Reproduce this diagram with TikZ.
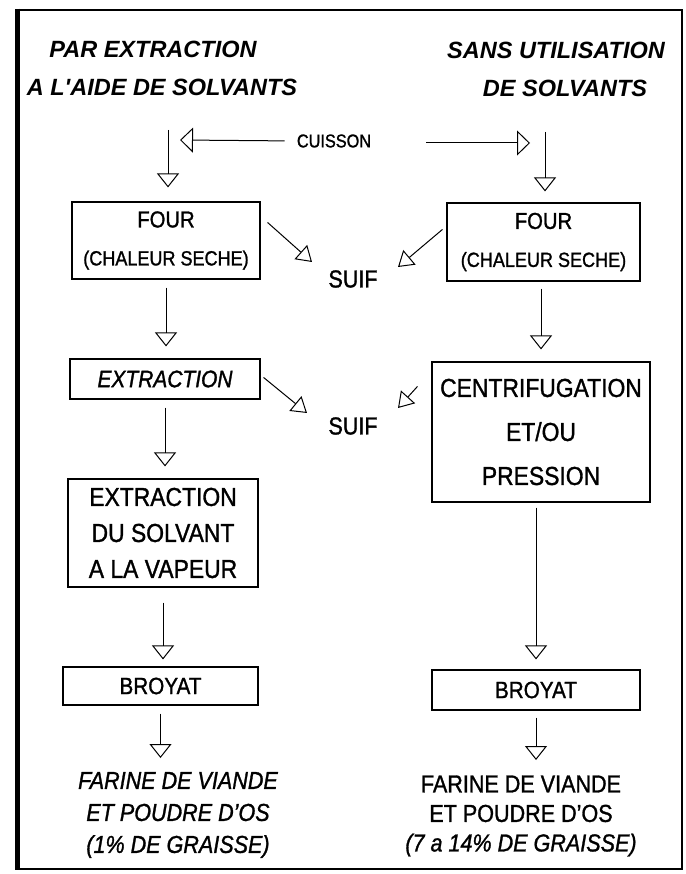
\documentclass[tikz,border=0pt]{standalone}
\usepackage{fontspec}
\setmainfont{Liberation Sans}[FakeStretch=0.88,FakeBold=1.2]
\newfontfamily\headfont{Liberation Sans}
\usetikzlibrary{calc,arrows.meta}
\newcommand{\setfs}[2]{\fontsize{#1}{#2}\selectfont}
\tikzset{
  frame/.style={draw=black,line width=2.5pt},
  box/.style={draw=black,line width=1.1pt,inner sep=0pt,align=center},
  flow/.style={draw=black,line width=1pt,-{Triangle[open,length=14pt,width=22pt]}},
  side/.style={draw=black,line width=1pt,-{Triangle[open,length=15pt,width=19pt]}},
  head/.style={font=\headfont\setfs{23.5}{28}\bfseries\itshape,inner sep=0pt},
  note/.style={font=\setfs{24.5}{28},inner sep=0pt},
}

\begin{document}
\begin{tikzpicture}[x=1pt,y=-1pt]
\useasboundingbox (0,0) rectangle (685,874);
\draw[frame] (17,10) rectangle (682,869);
\draw[line width=5pt] (17,8.75) -- (17,870.25);
\node[head] (tl1) at (153,49) {PAR EXTRACTION};
\node[head] (tl2) at (162,87) {A L'AIDE DE SOLVANTS};
\node[head] (tr1) at (556,50) {SANS UTILISATION};
\node[head] (tr2) at (565,88) {DE SOLVANTS};
\coordinate (v1) at (168,130);
\coordinate (v2) at (545,132);
\coordinate (cl) at (180,140);
\coordinate (cr) at (530,143);
\coordinate (f1) at (160.5,758);
\coordinate (f2) at (536,760);
\node[font=\setfs{18.5}{22},inner sep=0pt] (cuis) at (334,141) {CUISSON};
\node[box,minimum width=188pt,minimum height=77pt,font=\setfs{23}{38}] (four1) at (166,240.5) {FOUR\\{\fontsize{20.5}{38}\selectfont(CHALEUR SECHE)}};
\node[box,minimum width=193pt,minimum height=78pt,font=\setfs{23}{38}] (four2) at (543.5,242) {FOUR\\{\fontsize{20.5}{38}\selectfont(CHALEUR SECHE)}};
\node[box,minimum width=190pt,minimum height=40pt,font=\setfs{23.8}{28}\itshape] (extr) at (165,379) {EXTRACTION};
\node[box,minimum width=218pt,minimum height=140pt,font=\setfs{26}{44}] (centri) at (541,432) {CENTRIFUGATION\\ET/OU\\PRESSION};
\node[box,minimum width=190pt,minimum height=108pt,font=\setfs{26}{36}] (solv) at (163,533) {EXTRACTION\\DU SOLVANT\\A LA VAPEUR};
\node[box,minimum width=195pt,minimum height=38pt,font=\setfs{23.5}{26}] (broy1) at (160.5,686) {BROYAT};
\node[box,minimum width=208pt,minimum height=40pt,font=\setfs{23.5}{26}] (broy2) at (536,690) {BROYAT};
\node[note] (suif1) at (353,279) {SUIF};
\node[note] (suif2) at (353,426) {SUIF};
\node[font=\setfs{24.5}{32}\itshape,align=center,inner sep=0pt] (far1) at (178,815) {FARINE DE VIANDE\\ET POUDRE D'OS\\(1\% DE GRAISSE)};
\node[font=\setfs{24.5}{29.5},align=center,inner sep=0pt] (far2) at (521,816) {FARINE DE VIANDE\\ET POUDRE D'OS\\\textit{(7 a 14\% DE GRAISSE)}};
% cuisson
\draw[line width=1pt,-{Triangle[open,length=13pt,width=25pt]},shorten <=12pt] (cuis.west) -- (cl);
\draw[line width=1pt,-{Triangle[open,length=13pt,width=25pt]},shorten <=55pt] (cuis.east |- cr) -- (cr);
\draw[flow,shorten >=14pt] (v1) -- (v1 |- four1.north);
\draw[flow,shorten >=11pt] (v2) -- (v2 |- four2.north);
% colonne gauche
\draw[flow,shorten <=8pt,shorten >=12pt] (four1.south) -- (four1.south |- extr.north);
\draw[flow,shorten <=8pt,shorten >=12pt] (extr.south) -- (extr.south |- solv.north);
\draw[flow,shorten <=15pt,shorten >=7pt] (solv.south) -- (solv.south |- broy1.north);
\draw[flow,shorten <=8pt] (broy1.south) -- (f1);
% colonne droite
\draw[flow,shorten <=7pt,shorten >=12pt] (centri.north |- four2.south) -- (centri.north);
\draw[flow,shorten <=5pt,shorten >=10pt] (broy2.north |- centri.south) -- (broy2.north);
\draw[flow,shorten <=7pt] (broy2.south) -- (f2);
% suif
\draw[side] ($(four1.north east)+(7,21)$) -- ($(suif1)+(-41,-17)$);
\draw[side] ($(four2.north west)+(-4,27)$) -- ($(suif1)+(45,-12)$);
\draw[side] ($(extr.north east)+(3,19)$) -- ($(suif2)+(-46,-13)$);
\draw[side] ($(centri.north west)+(-14,25)$) -- ($(suif2)+(45,-18)$);
\end{tikzpicture}
\end{document}
